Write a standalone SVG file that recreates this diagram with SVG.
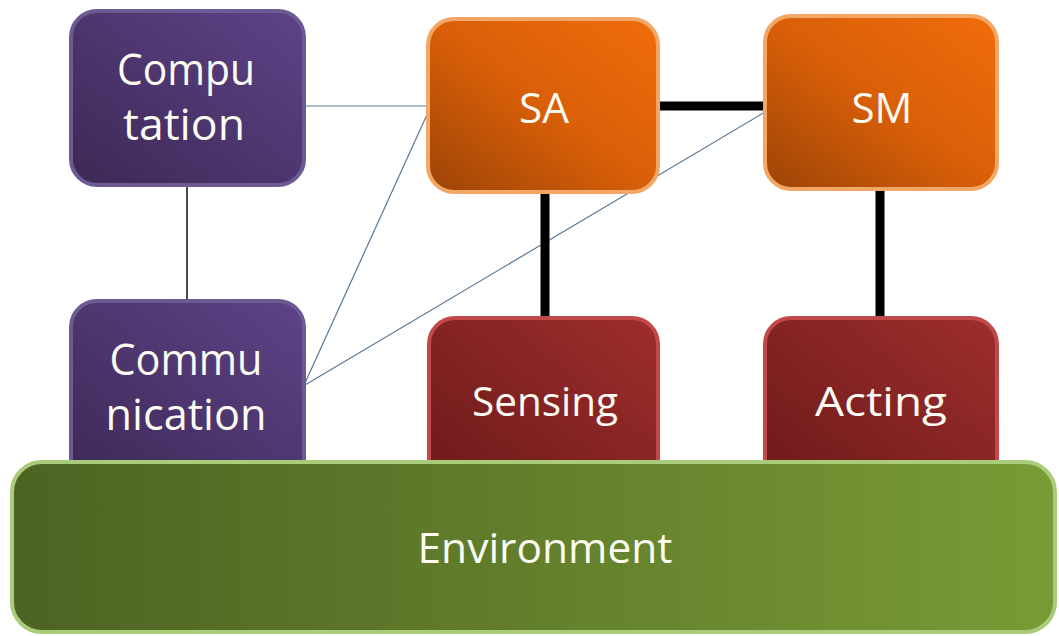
<svg xmlns="http://www.w3.org/2000/svg" width="1059" height="636" viewBox="0 0 1059 636">
<defs>
<linearGradient id="gP" x1="0" y1="1" x2="1" y2="0"><stop offset="0" stop-color="#3d2855"/><stop offset="1" stop-color="#5e4388"/></linearGradient>
<linearGradient id="gO" x1="0" y1="1" x2="1" y2="0"><stop offset="0" stop-color="#9c4407"/><stop offset="0.5" stop-color="#d95f08"/><stop offset="1" stop-color="#f06c0b"/></linearGradient>
<linearGradient id="gR" x1="0" y1="1" x2="1" y2="0"><stop offset="0" stop-color="#6a1818"/><stop offset="1" stop-color="#9e2e2e"/></linearGradient>
<linearGradient id="gG" x1="0" y1="0" x2="1" y2="0"><stop offset="0" stop-color="#4c6322"/><stop offset="1" stop-color="#799b36"/></linearGradient>
</defs>
<style>
.t{font-family:"Open Sans","Liberation Sans",sans-serif;font-size:40px;fill:#fbfbf2;text-anchor:middle}
.big{font-size:44px}
.mid{font-size:42px}
.p{fill:url(#gP);stroke:#6c5a92;stroke-width:4}
.o{fill:url(#gO);stroke:#f3a767;stroke-width:4}
.r{fill:url(#gR);stroke:#c04a4a;stroke-width:4}
.g{fill:url(#gG);stroke:#a9cc7a;stroke-width:4}
.thin{stroke:#5a7896;stroke-width:1.2;fill:none}
.thick{stroke:#000;stroke-width:9;fill:none}
</style>
<g id="connectors">
<line class="thin" x1="304" y1="106" x2="429" y2="106" stroke="#4a5a6a"/>
<line x1="187" y1="185" x2="187" y2="300" stroke="#111" stroke-width="1.5"/>
<line class="thin" x1="305" y1="383" x2="430" y2="108"/>
<line class="thin" x1="305" y1="385" x2="765" y2="112"/>
<line class="thick" x1="658" y1="106" x2="766" y2="106"/>
<line class="thick" x1="545" y1="192" x2="545" y2="320"/>
<line class="thick" x1="880" y1="189" x2="880" y2="320"/>
</g>
<g id="computation"><rect class="p" x="71" y="11" width="233" height="174" rx="26"/><text class="t big" x="186" y="85" textLength="138" lengthAdjust="spacingAndGlyphs">Compu</text><text class="t big" x="184" y="140" textLength="122" lengthAdjust="spacingAndGlyphs">tation</text></g>
<g id="communication"><rect class="p" x="71" y="301" width="233" height="190" rx="26"/><text class="t big" x="186" y="375" textLength="153" lengthAdjust="spacingAndGlyphs">Commu</text><text class="t big" x="186" y="430" textLength="161" lengthAdjust="spacingAndGlyphs">nication</text></g>
<g id="sensing"><rect class="r" x="429" y="318" width="229" height="190" rx="26"/><text class="t" x="545" y="416" textLength="146" lengthAdjust="spacingAndGlyphs">Sensing</text></g>
<g id="acting"><rect class="r" x="765" y="318" width="232" height="190" rx="26"/><text class="t" x="881" y="416" textLength="132" lengthAdjust="spacingAndGlyphs">Acting</text></g>
<g id="sa"><rect class="o" x="428" y="19" width="230" height="173" rx="26"/><text class="t mid" x="544" y="123" textLength="50" lengthAdjust="spacingAndGlyphs">SA</text></g>
<g id="sm"><rect class="o" x="765" y="16" width="232" height="173" rx="26"/><text class="t mid" x="882" y="123" textLength="61" lengthAdjust="spacingAndGlyphs">SM</text></g>
<g id="environment"><rect class="g" x="12" y="462" width="1043" height="170" rx="30"/><text class="t mid" x="545" y="563" textLength="255" lengthAdjust="spacingAndGlyphs">Environment</text></g>
</svg>
